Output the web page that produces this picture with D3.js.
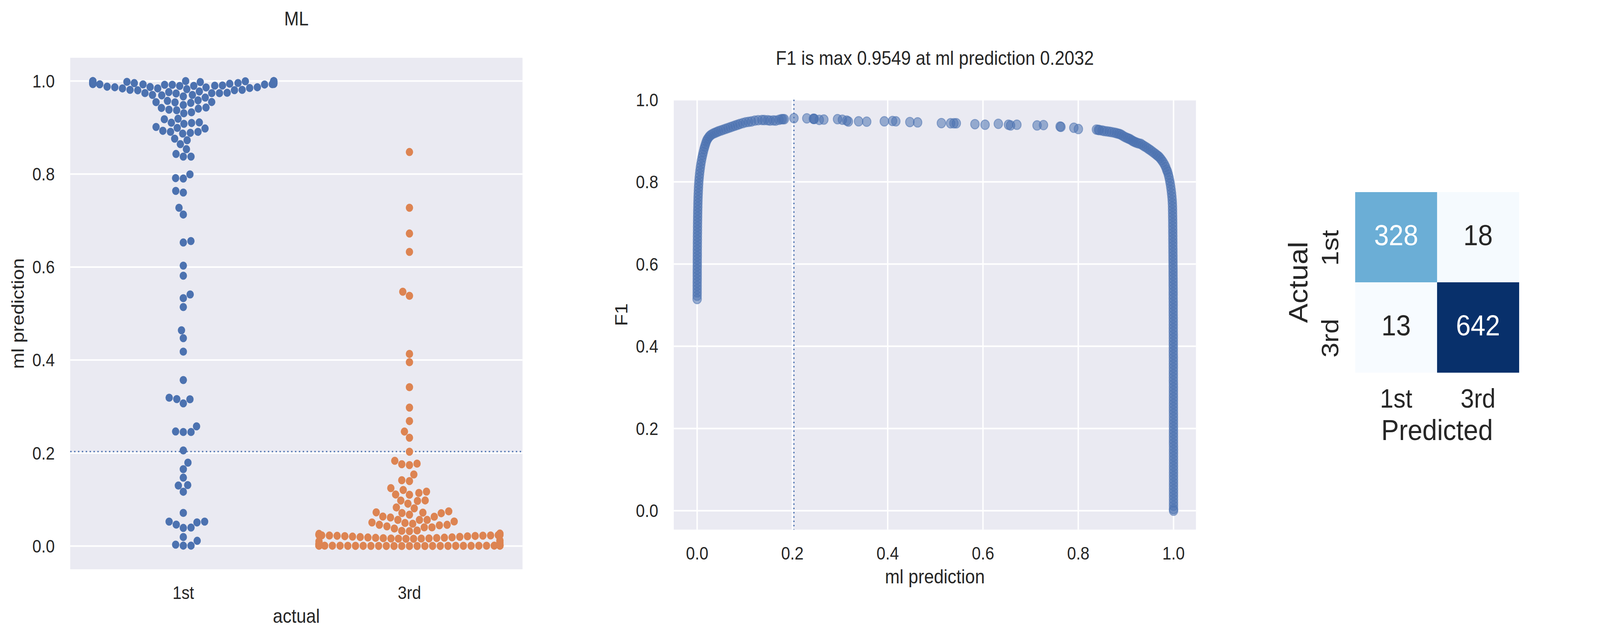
<!DOCTYPE html>
<html><head><meta charset="utf-8">
<script src="https://cdn.jsdelivr.net/npm/d3@7"></script>
<style>
html,body{margin:0;padding:0;background:#fff;overflow:hidden;width:100%;height:100%;}
svg{display:block;width:100vw;height:100vh;}
text{font-family:"Liberation Sans",Arial,sans-serif;fill:#262626;}
</style>
</head><body>
<svg id="chart" viewBox="0 0 4542 1634" preserveAspectRatio="none"></svg>
<script>
// ================= DATA =================
const categories = ["1st", "3rd"];
const bestThreshold = 0.2032;
const bestF1 = 0.9549;
const unitTicks = [0.0, 0.2, 0.4, 0.6, 0.8, 1.0];

// ml prediction of passengers whose actual class is 1st (visible swarm + points pushed to the gutters)
const predFirst = [
  0.0008, 0.0008, 0.0030, 0.0113, 0.0193, 0.0390, 0.0397, 0.0460, 0.0508, 0.0526, 0.0526, 0.0712,
  0.1167, 0.1301, 0.1311, 0.1471, 0.1653, 0.1793, 0.2056, 0.2452, 0.2452, 0.2464, 0.2574,
  0.3067, 0.3156, 0.3160, 0.3190, 0.3570, 0.4180, 0.4470, 0.4640, 0.5140, 0.5330, 0.5410,
  0.5813, 0.6030, 0.6528, 0.6559, 0.7129, 0.7274, 0.7602, 0.7638, 0.7903, 0.7912, 0.7993,
  0.8375, 0.8375, 0.8432, 0.8535, 0.8643, 0.8727, 0.8761, 0.8870, 0.8886, 0.8908, 0.8908,
  0.8930, 0.8980, 0.8992, 0.9013, 0.9080, 0.9098, 0.9104, 0.9110, 0.9178, 0.9190, 0.9306,
  0.9328, 0.9371, 0.9384, 0.9406, 0.9421, 0.9431, 0.9484, 0.9530, 0.9542, 0.9546, 0.9549,
  0.9574, 0.9586, 0.9645, 0.9670, 0.9692, 0.9701, 0.9701, 0.9732, 0.9739, 0.9739, 0.9741,
  0.9748, 0.9763, 0.9776, 0.9801, 0.9804, 0.9810, 0.9810, 0.9826, 0.9841, 0.9841, 0.9850,
  0.9863, 0.9866, 0.9866, 0.9872, 0.9879, 0.9894, 0.9897, 0.9900, 0.9904, 0.9919, 0.9919,
  0.9925, 0.9928, 0.9944, 0.9944, 0.9956, 0.9960, 0.9975, 0.9997, 0.9997,
  0.9930, 0.9932, 0.9934, 0.9936, 0.9938, 0.9940, 0.9942, 0.9946, 0.9948, 0.9950, 0.9952,
  0.9954, 0.9958, 0.9962, 0.9964, 0.9966, 0.9968, 0.9970, 0.9972, 0.9974, 0.9977, 0.9979,
  0.9981, 0.9983, 0.9985, 0.9987, 0.9989, 0.9991, 0.9993, 0.9995, 0.9996, 0.9998, 0.9999,
  0.9999, 1.0000, 1.0000
];

// ml prediction of passengers whose actual class is 3rd
const predThird = [
  0.8474, 0.7275, 0.6721, 0.6326, 0.5469, 0.5381, 0.4131, 0.3953, 0.3416, 0.2978, 0.2687,
  0.2462, 0.2329, 0.2028, 0.1833, 0.1772, 0.1760, 0.1741, 0.1540, 0.1415, 0.1396, 0.1245,
  0.1206, 0.1170, 0.1142, 0.1108, 0.1103, 0.0980, 0.0978, 0.0970, 0.0911, 0.0830, 0.0811,
  0.0746, 0.0724, 0.0719, 0.0710, 0.0705, 0.0674, 0.0635, 0.0630, 0.0613, 0.0562, 0.0562,
  0.0562, 0.0527, 0.0507, 0.0496, 0.0479, 0.0457, 0.0457, 0.0446, 0.0423, 0.0401, 0.0401,
  0.0376, 0.0334, 0.0326, 0.0320,
  0.0156, 0.0156, 0.0158, 0.0160, 0.0162, 0.0165, 0.0168, 0.0172, 0.0176, 0.0180, 0.0184,
  0.0188, 0.0193, 0.0198, 0.0203, 0.0208, 0.0212, 0.0216, 0.0220, 0.0223, 0.0226, 0.0228,
  0.0230, 0.0233, 0.0236, 0.0240, 0.0244, 0.0248, 0.0252, 0.0257, 0.0262, 0.0268,
  0.0040, 0.0060, 0.0080, 0.0100, 0.0120,
  0.0000, 0.0000, 0.0001, 0.0001, 0.0001, 0.0002, 0.0002, 0.0002, 0.0003, 0.0003, 0.0003,
  0.0004, 0.0004, 0.0004, 0.0005, 0.0005, 0.0005, 0.0006, 0.0006, 0.0006, 0.0007, 0.0007,
  0.0008, 0.0008, 0.0009, 0.0009, 0.0010, 0.0010, 0.0011, 0.0011, 0.0012, 0.0012, 0.0013,
  0.0013, 0.0014, 0.0015, 0.0015, 0.0016, 0.0017, 0.0017, 0.0018, 0.0019, 0.0020, 0.0021,
  0.0022, 0.0023, 0.0024, 0.0025, 0.0026, 0.0028
];

// [ml prediction threshold, F1]
const f1Curve = [
  [0.0000,0.515],[0.0000,0.523],[0.0001,0.531],[0.0001,0.539],[0.0001,0.547],[0.0001,0.555],
  [0.0002,0.563],[0.0002,0.571],[0.0002,0.579],[0.0002,0.587],[0.0003,0.595],[0.0003,0.603],
  [0.0003,0.611],[0.0004,0.619],[0.0004,0.627],[0.0004,0.635],[0.0005,0.643],[0.0005,0.651],
  [0.0006,0.659],[0.0006,0.667],[0.0007,0.675],[0.0008,0.683],[0.0008,0.691],[0.0009,0.699],
  [0.0010,0.707],[0.0011,0.715],[0.0012,0.723],[0.0013,0.731],[0.0015,0.739],[0.0016,0.747],
  [0.0018,0.755],[0.0020,0.763],[0.0023,0.771],[0.0026,0.779],[0.0029,0.787],[0.0033,0.795],
  [0.0038,0.803],[0.0044,0.811],[0.0051,0.819],[0.0059,0.827],[0.0068,0.835],[0.0078,0.843],
  [0.0090,0.851],[0.0103,0.859],[0.0116,0.866],[0.0130,0.873],[0.0145,0.880],[0.0160,0.886],
  [0.0176,0.892],[0.0193,0.898],[0.0212,0.903],[0.0235,0.907],[0.0260,0.911],[0.0290,0.914],
  [0.0330,0.917],[0.0370,0.919],[0.0410,0.921],[0.0450,0.923],[0.0500,0.925],[0.0550,0.927],
  [0.0600,0.929],[0.0650,0.931],[0.0700,0.933],[0.0750,0.935],[0.0800,0.937],[0.0850,0.939],
  [0.0900,0.941],[0.0960,0.943],[0.1020,0.945],[0.1080,0.946],[0.1140,0.947],[0.1210,0.949],
  [0.1280,0.950],[0.1360,0.9505],[0.1410,0.9503],[0.1480,0.950],[0.1530,0.949],[0.1600,0.9495],
  [0.1650,0.949],[0.1720,0.951],[0.1770,0.9525],[0.1800,0.9525],[0.1830,0.9525],
  [0.2032,0.9549],[0.2302,0.9545],[0.2440,0.9534],[0.2450,0.9534],[0.2460,0.9530],[0.2564,0.9508],
  [0.2659,0.9516],[0.2947,0.9525],[0.3049,0.9512],[0.3141,0.9490],[0.3175,0.9468],[0.3389,0.9473],
  [0.3559,0.9464],[0.3929,0.9473],[0.4102,0.9481],[0.4170,0.9473],[0.4465,0.9455],[0.4628,0.9447],
  [0.5127,0.9429],[0.5320,0.9425],[0.5390,0.9425],[0.5440,0.9425],[0.5831,0.9403],[0.6044,0.9390],
  [0.6322,0.9412],[0.6535,0.9390],[0.6579,0.9373],[0.6711,0.9390],[0.7135,0.9373],[0.7270,0.9381],
  [0.7619,0.9346],[0.7636,0.9338],[0.7907,0.9316],[0.8002,0.9285],
  [0.8381,0.9272],[0.8420,0.9265],[0.8442,0.9259],[0.8500,0.9250],[0.8544,0.9237],[0.8600,0.9228],
  [0.8652,0.9220],[0.8700,0.9210],[0.8754,0.9198],[0.8800,0.9185],[0.8840,0.9172],[0.8873,0.9163],
  [0.8910,0.9140],[0.8950,0.9110],[0.8991,0.9085],[0.9030,0.9065],[0.9060,0.9050],[0.9093,0.9033],
  [0.9130,0.9005],[0.9160,0.8985],[0.9194,0.8967],[0.9230,0.8950],[0.9270,0.8935],[0.9313,0.8924],
  [0.9350,0.8895],[0.9390,0.8865],[0.9431,0.8837],[0.9470,0.8805],[0.9510,0.8775],[0.9550,0.8740],
  [0.9590,0.8705],[0.9630,0.8670],[0.9660,0.8640],[0.9690,0.8615],[0.9720,0.8575],[0.9750,0.8530],
  [0.9780,0.8480],[0.9810,0.8420],[0.9835,0.8360],[0.9855,0.8295],[0.9872,0.8248],[0.9890,0.8180],
  [0.9905,0.8110],[0.9918,0.8030],[0.9930,0.7960],[0.9940,0.7880],[0.9950,0.7800],[0.9958,0.7720],
  [0.9965,0.7640],[0.9971,0.7560],[0.9975,0.7480],
  [0.9978,0.740],[0.9979,0.732],[0.9980,0.724],[0.9981,0.716],[0.9982,0.708],[0.9983,0.700],
  [0.9983,0.692],[0.9984,0.684],[0.9984,0.676],[0.9985,0.668],[0.9985,0.660],[0.9986,0.652],
  [0.9986,0.644],[0.9987,0.636],[0.9987,0.628],[0.9988,0.620],[0.9988,0.612],[0.9989,0.604],
  [0.9989,0.596],[0.9990,0.588],[0.9990,0.580],[0.9990,0.572],[0.9991,0.564],[0.9991,0.556],
  [0.9991,0.548],[0.9992,0.540],[0.9992,0.532],[0.9992,0.524],[0.9992,0.516],[0.9993,0.508],
  [0.9993,0.500],[0.9993,0.492],[0.9993,0.484],[0.9993,0.476],[0.9994,0.468],[0.9994,0.460],
  [0.9994,0.452],[0.9994,0.444],[0.9994,0.436],[0.9995,0.428],[0.9995,0.420],[0.9995,0.412],
  [0.9995,0.404],[0.9995,0.396],[0.9995,0.388],[0.9995,0.380],[0.9996,0.372],[0.9996,0.364],
  [0.9996,0.356],[0.9996,0.348],[0.9996,0.340],[0.9996,0.332],[0.9996,0.324],[0.9996,0.316],
  [0.9997,0.308],[0.9997,0.300],[0.9997,0.292],[0.9997,0.284],[0.9997,0.276],[0.9997,0.268],
  [0.9997,0.260],[0.9997,0.252],[0.9997,0.244],[0.9998,0.236],[0.9998,0.228],[0.9998,0.220],
  [0.9998,0.212],[0.9998,0.204],[0.9998,0.196],[0.9998,0.188],[0.9998,0.180],[0.9998,0.172],
  [0.9998,0.164],[0.9999,0.156],[0.9999,0.148],[0.9999,0.140],[0.9999,0.132],[0.9999,0.124],
  [0.9999,0.116],[0.9999,0.108],[0.9999,0.100],[0.9999,0.092],[0.9999,0.084],[0.9999,0.076],
  [0.9999,0.068],[0.9999,0.060],[0.9999,0.052],[0.9999,0.044],[0.9999,0.036],[0.9999,0.028],
  [0.9999,0.020],[0.9999,0.012],[0.9999,0.004],[1.0000,0.000]
];

// confusion matrix: rows = actual, cols = predicted
const cmLabels = ["1st", "3rd"];
const confusion = [[328, 18], [13, 642]];
const bluesStops = ["#f7fbff","#deebf7","#c6dbef","#9ecae1","#6baed6","#4292c6","#2171b5","#08519c","#08306b"];

// ================= DRAW =================
const svg = d3.select("#chart");
svg.append("rect").attr("width", 4542).attr("height", 1634).attr("fill", "#fff");
const BG = "#eaeaf2", BLUE = "#4c72b0", ORANGE = "#dd8452";
const TICK_FS = 45.83, LABEL_FS = 50;
const fmt = d3.format(".1f");

function swarm(values, center, r, yScale, halfWidth) {
  const pts = values.map(v => ({v, x: center, y: yScale(v), yd: -yScale(v)}));
  const order = pts.slice().sort((a, b) => a.yd - b.yd);
  const placed = [];
  const sep2 = 4 * r * r;
  for (const p of order) {
    if (!placed.length) { placed.push(p); continue; }
    const nb = [];
    for (let k = placed.length - 1; k >= 0; k--) {
      const q = placed[k];
      if (p.yd - q.yd < 2 * r) nb.push(q); else break;
    }
    const cands = [center];
    let leftFirst = true;
    for (const q of nb) {
      const dy = p.yd - q.yd;
      const dx = Math.sqrt(Math.max(sep2 - dy * dy, 0)) * 1.05;
      if (leftFirst) cands.push(q.x - dx, q.x + dx); else cands.push(q.x + dx, q.x - dx);
      leftFirst = !leftFirst;
    }
    const idx = cands.map((c, i) => i).sort((a, b) =>
      (Math.abs(cands[a] - center) - Math.abs(cands[b] - center)) || (a - b));
    let chosen = center;
    for (const i of idx) {
      const cx = cands[i];
      let ok = true;
      for (const q of nb) {
        const dx = q.x - cx, dy = q.yd - p.yd;
        if (dx * dx + dy * dy < sep2) { ok = false; break; }
      }
      if (ok) { chosen = cx; break; }
    }
    p.x = chosen;
    placed.push(p);
  }
  pts.forEach(p => { p.x = Math.max(center - halfWidth, Math.min(center + halfWidth, p.x)); });
  return pts;
}

// ---------- Panel 1: swarm ----------
const p1 = {left: 199.4, right: 1483.3, top: 148, bottom: 1458};
const g1 = svg.append("g");
const x1 = d3.scalePoint().domain(categories).range([p1.left, p1.right]).padding(0.5);
const y1 = d3.scaleLinear().domain([-0.05, 1.05]).range([p1.bottom, p1.top]);
g1.append("rect").attr("x", p1.left).attr("y", p1.top)
  .attr("width", p1.right - p1.left).attr("height", p1.bottom - p1.top).attr("fill", BG);
g1.selectAll(".gy").data(unitTicks).join("line")
  .attr("x1", p1.left).attr("x2", p1.right)
  .attr("y1", d => y1(d)).attr("y2", d => y1(d))
  .attr("stroke", "#fff").attr("stroke-width", 4);
g1.append("line").attr("x1", p1.left).attr("x2", p1.right)
  .attr("y1", y1(bestThreshold)).attr("y2", y1(bestThreshold))
  .attr("stroke", BLUE).attr("stroke-width", 3.4).attr("stroke-dasharray", "3.8,7.2");

const R_SW = 10.42;
const halfW = x1.step() * 0.4;
const sw1 = swarm(predFirst, x1("1st"), R_SW, y1, halfW);
const sw3 = swarm(predThird, x1("3rd"), R_SW, y1, halfW);
g1.selectAll(".d1").data(sw1).join("circle")
  .attr("cx", d => d.x).attr("cy", d => d.y).attr("r", R_SW).attr("fill", BLUE);
g1.selectAll(".d3").data(sw3).join("circle")
  .attr("cx", d => d.x).attr("cy", d => d.y).attr("r", R_SW).attr("fill", ORANGE);

g1.selectAll(".ty").data(unitTicks).join("text")
  .attr("x", p1.left - 44).attr("y", d => y1(d)).attr("dy", "0.358em")
  .attr("text-anchor", "end").attr("font-size", TICK_FS).text(d => fmt(d));
g1.selectAll(".tx").data(categories).join("text")
  .attr("x", d => x1(d)).attr("y", p1.bottom + 76)
  .attr("text-anchor", "middle").attr("font-size", TICK_FS).text(d => d);
g1.append("text").attr("x", (p1.left + p1.right) / 2).attr("y", p1.bottom + 137)
  .attr("text-anchor", "middle").attr("font-size", LABEL_FS).text("actual");
g1.append("text").attr("transform", `translate(${p1.left - 132},${(p1.top + p1.bottom) / 2}) rotate(-90)`)
  .attr("text-anchor", "middle").attr("font-size", LABEL_FS).text("ml prediction");
g1.append("text").attr("x", (p1.left + p1.right) / 2).attr("y", 65.4)
  .attr("text-anchor", "middle").attr("font-size", LABEL_FS).text("ML");

// ---------- Panel 2: F1 vs threshold ----------
const p2 = {left: 1912.7, right: 3395, top: 255.2, bottom: 1356.4};
const g2 = svg.append("g");
const x2 = d3.scaleLinear().domain([-0.049, 1.047]).range([p2.left, p2.right]);
const y2 = d3.scaleLinear().domain([-0.046, 1.0]).range([p2.bottom, p2.top]);
g2.append("rect").attr("x", p2.left).attr("y", p2.top)
  .attr("width", p2.right - p2.left).attr("height", p2.bottom - p2.top).attr("fill", BG);
g2.selectAll(".gx").data(unitTicks).join("line")
  .attr("x1", d => x2(d)).attr("x2", d => x2(d)).attr("y1", p2.top).attr("y2", p2.bottom)
  .attr("stroke", "#fff").attr("stroke-width", 4);
g2.selectAll(".gy").data(unitTicks).join("line")
  .attr("x1", p2.left).attr("x2", p2.right).attr("y1", d => y2(d)).attr("y2", d => y2(d))
  .attr("stroke", "#fff").attr("stroke-width", 4);
g2.append("line").attr("x1", x2(bestThreshold)).attr("x2", x2(bestThreshold))
  .attr("y1", p2.top).attr("y2", p2.bottom)
  .attr("stroke", BLUE).attr("stroke-width", 3.4).attr("stroke-dasharray", "3.8,7.2");
g2.selectAll(".pt").data(f1Curve).join("circle")
  .attr("cx", d => x2(d[0])).attr("cy", d => y2(d[1])).attr("r", 12.2)
  .attr("fill", BLUE).attr("fill-opacity", 0.55)
  .attr("stroke", BLUE).attr("stroke-opacity", 0.55).attr("stroke-width", 2.4);
g2.selectAll(".ty").data(unitTicks).join("text")
  .attr("x", p2.left - 44).attr("y", d => y2(d)).attr("dy", "0.358em")
  .attr("text-anchor", "end").attr("font-size", TICK_FS).text(d => fmt(d));
g2.selectAll(".tx").data(unitTicks).join("text")
  .attr("x", d => x2(d)).attr("y", p2.bottom + 77)
  .attr("text-anchor", "middle").attr("font-size", TICK_FS).text(d => fmt(d));
g2.append("text").attr("x", (p2.left + p2.right) / 2).attr("y", p2.bottom + 138)
  .attr("text-anchor", "middle").attr("font-size", LABEL_FS).text("ml prediction");
g2.append("text").attr("transform", `translate(${p2.left - 132},${(p2.top + p2.bottom) / 2}) rotate(-90)`)
  .attr("text-anchor", "middle").attr("font-size", LABEL_FS).text("F1");
g2.append("text").attr("x", (p2.left + p2.right) / 2).attr("y", 166.3)
  .attr("text-anchor", "middle").attr("font-size", LABEL_FS)
  .text(`F1 is max ${bestF1.toFixed(4)} at ml prediction ${bestThreshold.toFixed(4)}`);

// ---------- Panel 3: confusion matrix ----------
const p3 = {left: 3847, right: 4312, top: 492, bottom: 954};
const g3 = svg.append("g");
const xc = d3.scaleBand().domain(cmLabels).range([p3.left, p3.right]);
const yc = d3.scaleBand().domain(cmLabels).range([p3.top, p3.bottom]);
const flat = confusion.flat();
const vmin = d3.min(flat), vmax = d3.max(flat);
const color = d3.scaleLinear()
  .domain(bluesStops.map((c, i) => vmin + (vmax - vmin) * i / (bluesStops.length - 1)))
  .range(bluesStops).interpolate(d3.interpolateRgb);
const cells = [];
confusion.forEach((row, i) => row.forEach((v, j) => cells.push({a: cmLabels[i], p: cmLabels[j], v})));
g3.selectAll(".cell").data(cells).join("rect")
  .attr("x", d => xc(d.p)).attr("y", d => yc(d.a))
  .attr("width", xc.bandwidth() + 0.5).attr("height", yc.bandwidth() + 0.5)
  .attr("fill", d => color(d.v));
g3.selectAll(".ann").data(cells).join("text")
  .attr("x", d => xc(d.p) + xc.bandwidth() / 2)
  .attr("y", d => yc(d.a) + yc.bandwidth() / 2 + 21)
  .attr("text-anchor", "middle").attr("font-size", 75)
  .style("fill", d => {
    const c = d3.rgb(color(d.v));
    const lum = 0.2126 * Math.pow(c.r / 255, 2.2) + 0.7152 * Math.pow(c.g / 255, 2.2) + 0.0722 * Math.pow(c.b / 255, 2.2);
    return lum > 0.408 ? "#262626" : "#ffffff";
  })
  .text(d => d.v);
g3.selectAll(".tx").data(cmLabels).join("text")
  .attr("x", d => xc(d) + xc.bandwidth() / 2).attr("y", 1044)
  .attr("text-anchor", "middle").attr("font-size", 68.75).text(d => d);
g3.selectAll(".ty").data(cmLabels).join("text")
  .attr("transform", d => `translate(3799,${yc(d) + yc.bandwidth() / 2 + 27.5}) rotate(-90)`)
  .attr("text-anchor", "middle").attr("font-size", 68.75).text(d => d);
g3.append("text").attr("x", (p3.left + p3.right) / 2).attr("y", 1127)
  .attr("text-anchor", "middle").attr("font-size", 75).text("Predicted");
g3.append("text").attr("transform", `translate(3711,${(p3.top + p3.bottom) / 2}) rotate(-90)`)
  .attr("text-anchor", "middle").attr("font-size", 75).text("Actual");
</script>
</body></html>
